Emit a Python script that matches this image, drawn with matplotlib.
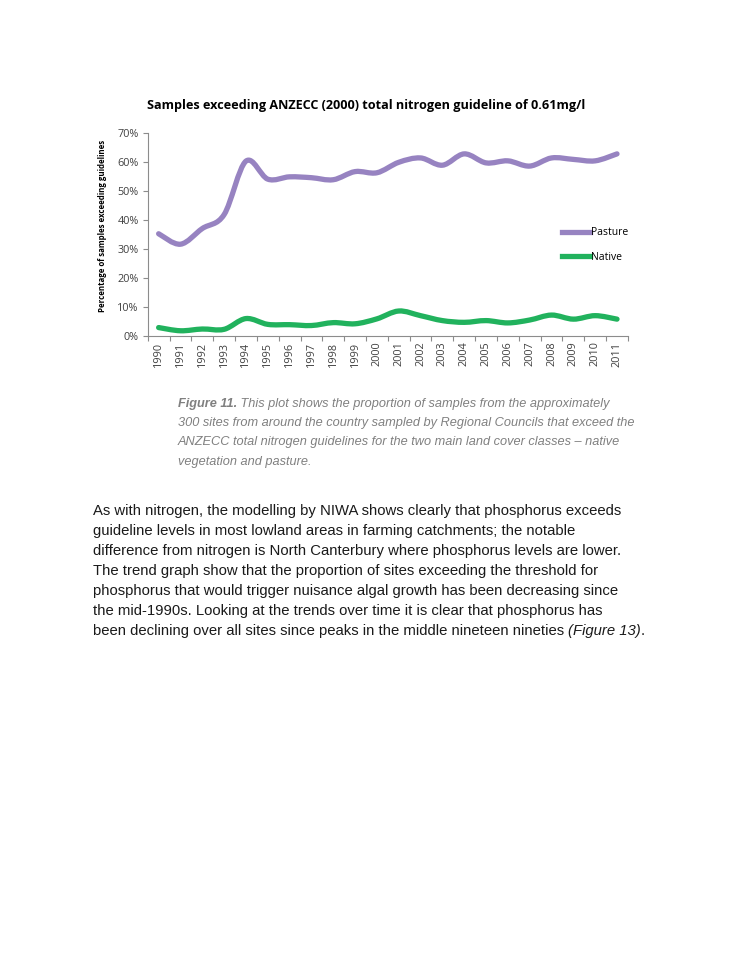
import matplotlib
matplotlib.use("Agg")
import matplotlib.pyplot as plt
from matplotlib.path import Path
from matplotlib.patches import PathPatch
from matplotlib.lines import Line2D
from matplotlib.ticker import FixedLocator, PercentFormatter

years = [str(y) for y in range(1990, 2012)]
pasture = [35.2, 31.6, 37.0, 41.8, 60.2, 54.0, 54.8, 54.5, 53.8, 56.6, 56.2, 59.8,
           61.3, 58.8, 62.7, 59.6, 60.3, 58.5, 61.3, 60.8, 60.3, 62.7]
native = [2.9, 1.8, 2.4, 2.3, 6.0, 4.0, 3.9, 3.6, 4.6, 4.2, 5.9, 8.6,
          7.0, 5.3, 4.7, 5.3, 4.5, 5.5, 7.2, 5.8, 7.0, 5.8]

title = "Samples exceeding ANZECC (2000) total nitrogen guideline of 0.61mg/l"
ylabel = "Percentage of samples exceeding guidelines"

caption_first = ["Figure 11.",
                 " This plot shows the proportion of samples from the approximately"]
caption_rest = ["300 sites from around the country sampled by Regional Councils that exceed the",
                "ANZECC total nitrogen guidelines for the two main land cover classes \u2013 native",
                "vegetation and pasture."]

body = ["As with nitrogen, the modelling by NIWA shows clearly that phosphorus exceeds",
        "guideline levels in most lowland areas in farming catchments; the notable",
        "difference from nitrogen is North Canterbury where phosphorus levels are lower.",
        "The trend graph show that the proportion of sites exceeding the threshold for",
        "phosphorus that would trigger nuisance algal growth has been decreasing since",
        "the mid-1990s. Looking at the trends over time it is clear that phosphorus has",
        "been declining over all sites since peaks in the middle nineteen nineties "]
body_end = ["(Figure 13)", "."]

PURPLE = "#9783c1"
GREEN = "#21b25d"


def smooth_path(xs, ys):
    # excel style smoothed line: catmull-rom turned into cubic bezier pieces
    pts = list(zip(xs, ys))
    verts = [pts[0]]
    codes = [Path.MOVETO]
    n = len(pts)
    for i in range(n - 1):
        p0 = pts[i - 1] if i > 0 else pts[i]
        p1 = pts[i]
        p2 = pts[i + 1]
        p3 = pts[i + 2] if i + 2 < n else pts[i + 1]
        c1 = (p1[0] + (p2[0] - p0[0]) / 6, p1[1] + (p2[1] - p0[1]) / 6)
        c2 = (p2[0] - (p3[0] - p1[0]) / 6, p2[1] - (p3[1] - p1[1]) / 6)
        verts += [c1, c2, p2]
        codes += [Path.CURVE4] * 3
    return Path(verts, codes)


fig = plt.figure(figsize=(7.32, 9.77), dpi=100)
ax = fig.add_axes([0.2018, 0.6561, 0.656, 0.2081])

xs = list(range(len(years)))
for vals, col in [(pasture, PURPLE), (native, GREEN)]:
    ax.add_patch(PathPatch(smooth_path(xs, vals), fill=False, edgecolor=col,
                           linewidth=3.8, capstyle="round", joinstyle="round"))

ax.set_xlim(-0.5, len(years) - 0.5)
ax.set_ylim(0, 70)
ax.yaxis.set_major_locator(FixedLocator(range(0, 71, 10)))
ax.yaxis.set_major_formatter(PercentFormatter(decimals=0))
ax.set_xticks(xs)
ax.set_xticklabels(years, rotation=90)
ax.set_xticks([x - 0.5 for x in xs] + [len(years) - 0.5], minor=True)

for s in ["top", "right"]:
    ax.spines[s].set_visible(False)
for s in ["left", "bottom"]:
    ax.spines[s].set_color("#8c8c8c")
    ax.spines[s].set_linewidth(0.8)

ax.tick_params(axis="x", which="major", length=0, pad=4, labelsize=7.8, labelcolor="#404040")
ax.tick_params(axis="x", which="minor", length=3.5, color="#8c8c8c", width=0.8)
ax.tick_params(axis="y", length=3.5, color="#8c8c8c", width=0.8, labelsize=7.8,
               labelcolor="#404040", pad=3)
for lab in ax.get_yticklabels() + ax.get_xticklabels():
    lab.set_family("Open Sans")

ax.set_ylabel(ylabel, fontsize=5.7, fontweight="bold", family="Open Sans")
ax.yaxis.set_label_coords(-0.085, 0.541)
ax.set_title(title, fontsize=9.1, fontweight="bold", family="Open Sans", pad=17, x=0.4555)

handles = [Line2D([], [], color=PURPLE, linewidth=3.8),
           Line2D([], [], color=GREEN, linewidth=3.8)]
leg = ax.legend(handles, ["Pasture", "Native"], loc="upper left",
                bbox_to_anchor=(0.862, 0.535), frameon=False,
                handlelength=2.7, handletextpad=0.15, labelspacing=1.3,
                borderpad=0, borderaxespad=0, prop={"family": "Open Sans", "size": 7.5})

# caption under the chart
cap_kw = dict(fontsize=9.15, style="italic", color="#808080", family="Liberation Sans")
cx = 178 / 732
t = fig.text(cx, 1 - 403.5 / 977, caption_first[0], va="center", fontweight="bold", **cap_kw)
ax.annotate(caption_first[1], xy=(1, 0), xycoords=t, va="bottom", annotation_clip=False, **cap_kw)
for i, line in enumerate(caption_rest):
    fig.text(cx, 1 - (423 + 19.3 * i) / 977, line, va="center", **cap_kw)

# body paragraph
body_kw = dict(fontsize=10.7, color="#1a1a1a", family="Liberation Sans")
bx = 93 / 732
last = None
for i, line in enumerate(body):
    last = fig.text(bx, 1 - (511 + 20 * i) / 977, line, va="center", **body_kw)
t2 = ax.annotate(body_end[0], xy=(1, 0), xycoords=last, va="bottom", style="italic",
                 annotation_clip=False, **body_kw)
ax.annotate(body_end[1], xy=(1, 0), xycoords=t2, va="bottom", annotation_clip=False, **body_kw)

fig.savefig("out.png", dpi=100, facecolor="white")
